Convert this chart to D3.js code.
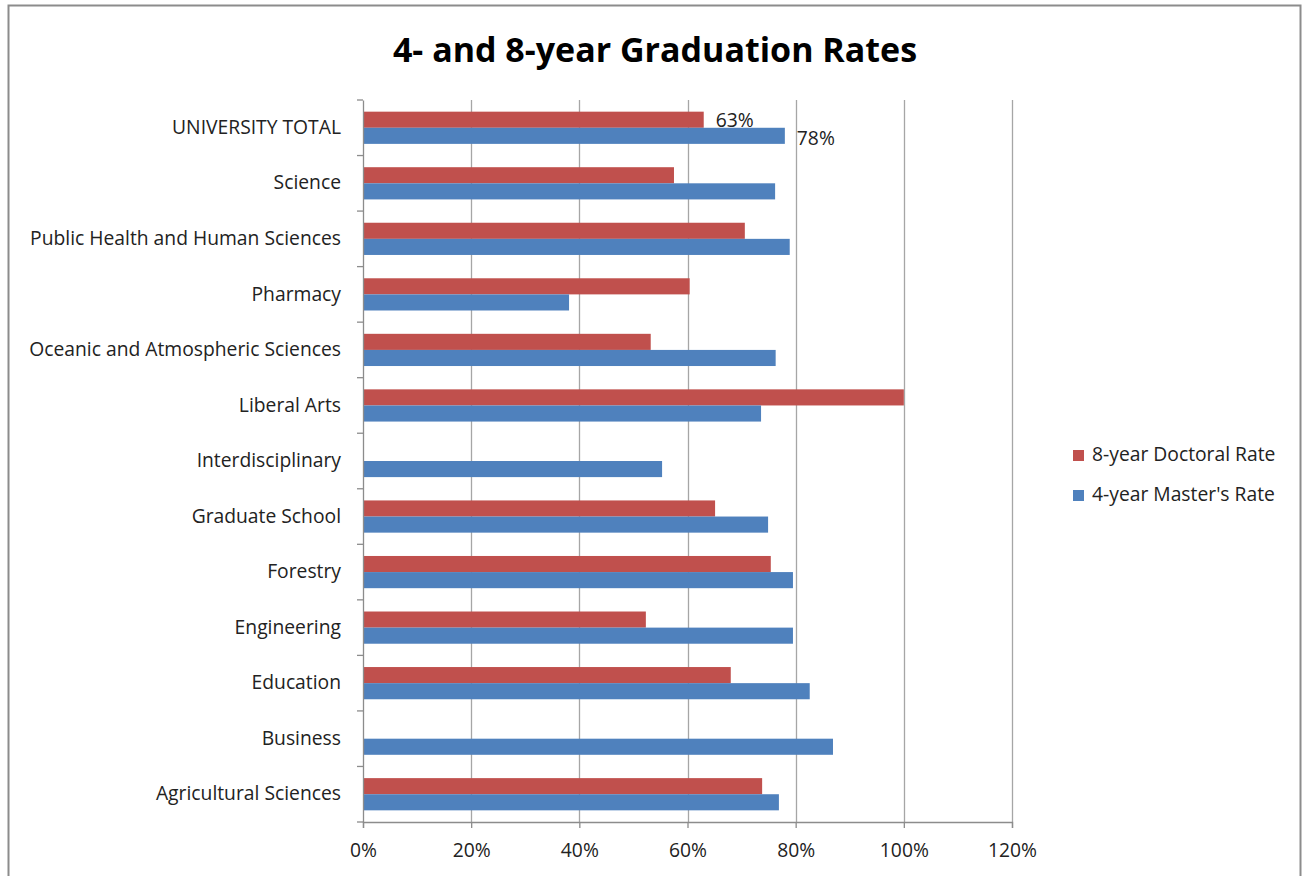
<!DOCTYPE html>
<html><head><meta charset="utf-8">
<script src="https://cdn.jsdelivr.net/npm/d3@7"></script>
<style>body{margin:0;background:#fff;}svg{display:block;}</style>
</head><body>
<svg id="chart" width="1308" height="876"></svg>
<script>
const categories = ["UNIVERSITY TOTAL","Science","Public Health and Human Sciences","Pharmacy","Oceanic and Atmospheric Sciences","Liberal Arts","Interdisciplinary","Graduate School","Forestry","Engineering","Education","Business","Agricultural Sciences"];
const doctoralRate = [0.63,0.575,0.706,0.604,0.532,1.00,null,0.651,0.754,0.523,0.680,null,0.738];
const mastersRate  = [0.78,0.762,0.789,0.381,0.763,0.736,0.553,0.749,0.795,0.795,0.826,0.869,0.769];
const xTicks = [0,0.2,0.4,0.6,0.8,1.0,1.2];
const seriesNames = ["8-year Doctoral Rate","4-year Master's Rate"];
const labelled = {"UNIVERSITY TOTAL": true};

(function(){
const colors = ["#C0504D","#4F81BD"];
const font = "'Open Sans', 'Liberation Sans', sans-serif";
const fs = 19.3;
const svg = d3.select("#chart");

svg.append("rect").attr("x",8.5).attr("y",5.5).attr("width",1292).attr("height",880)
  .attr("fill","#fff").attr("stroke","#8c8c8c").attr("stroke-width",2);

svg.append("text").attr("x",655).attr("y",62).attr("text-anchor","middle")
  .attr("font-family",font).attr("font-weight","bold").attr("font-size",34).attr("fill","#000")
  .text("4- and 8-year Graduation Rates");

const pl=363, pr=1012, pt=100, pb=822;
const x = d3.scaleLinear().domain([0,1.2]).range([pl,pr]);
const y = d3.scaleBand().domain(categories).range([pt,pb]).paddingInner(0.42).paddingOuter(0.21);
const sub = d3.scaleBand().domain([0,1]).range([0,y.bandwidth()]);

svg.append("g").selectAll("line").data(xTicks.slice(1)).join("line")
  .attr("x1",d=>Math.round(x(d))+0.5).attr("x2",d=>Math.round(x(d))+0.5)
  .attr("y1",pt).attr("y2",pb).attr("stroke","#a6a6a6").attr("stroke-width",1.3);

const rows = categories.map((c,i)=>({c, vals:[doctoralRate[i], mastersRate[i]]}));
const g = svg.append("g");
rows.forEach(r=>{
  r.vals.forEach((v,k)=>{
    if(v==null) return;
    g.append("rect").attr("x",x(0)).attr("y",y(r.c)+sub(k)).attr("width",x(v)-x(0))
      .attr("height",sub.bandwidth()).attr("fill",colors[k]);
    if(labelled[r.c]){
      g.append("text").attr("x",x(v)+12).attr("y",y(r.c)+sub(k)+sub.bandwidth()/2+(k==0?2:4))
        .attr("dominant-baseline","middle").attr("font-family",font).attr("font-size",fs).attr("fill","#222")
        .text(d3.format(".0%")(v));
    }
  });
});

const xAxis = d3.axisBottom(x).tickValues(xTicks).tickFormat(d3.format(".0%")).tickSize(6).tickPadding(15);
const xg = svg.append("g").attr("transform",`translate(0,${pb})`).call(xAxis);
xg.select(".domain").attr("stroke","#8c8c8c").attr("stroke-width",1.3);
xg.selectAll(".tick line").attr("stroke","#8c8c8c").attr("stroke-width",1.3);
xg.selectAll("text").attr("font-family",font).attr("font-size",fs).attr("fill","#222");

const yAxis = d3.axisLeft(y).tickSize(0).tickPadding(22);
const yg = svg.append("g").attr("transform",`translate(${pl},0)`).call(yAxis);
yg.select(".domain").attr("stroke","#8c8c8c").attr("stroke-width",1.3);
yg.selectAll("text").attr("font-family",font).attr("font-size",fs).attr("fill","#222");
const sepY = d3.range(categories.length+1).map(i=>pt+i*(pb-pt)/categories.length);
svg.append("g").selectAll("line").data(sepY).join("line")
  .attr("x1",pl-6).attr("x2",pl).attr("y1",d=>d).attr("y2",d=>d)
  .attr("stroke","#8c8c8c").attr("stroke-width",1.3);

const lg = svg.append("g");
seriesNames.forEach((n,i)=>{
  lg.append("rect").attr("x",1073).attr("y",450+i*40).attr("width",11).attr("height",11).attr("fill",colors[i]);
  lg.append("text").attr("x",1092).attr("y",456+i*40).attr("dominant-baseline","middle")
    .attr("font-family",font).attr("font-size",fs).attr("fill","#222").text(n);
});
})();
</script>
</body></html>
